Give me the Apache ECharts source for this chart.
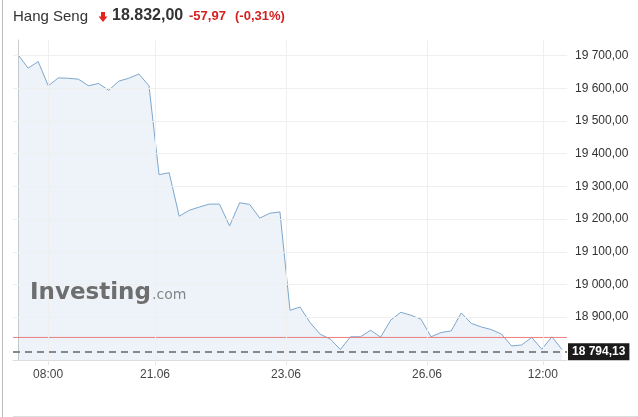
<!DOCTYPE html>
<html>
<head>
<meta charset="utf-8">
<script src="https://cdn.jsdelivr.net/npm/echarts@6/dist/echarts.min.js"></script>
<style>
html,body{margin:0;padding:0;background:#fff;}
#c{width:638px;height:417px;}
</style>
</head>
<body>
<div id="c"></div>
<script>
// ---- data ----
const closeValues = [
  19703, 19662, 19682, 19608, 19632, 19631, 19628, 19608, 19615, 19594,
  19622, 19631, 19644, 19608, 19336, 19342, 19209, 19227, 19237, 19246,
  19246, 19179, 19250, 19245, 19203, 19218, 19222, 18921, 18931, 18883,
  18848, 18833, 18801, 18840, 18840, 18860, 18839, 18891, 18915, 18906,
  18894, 18840, 18853, 18858, 18913, 18881, 18870, 18862, 18848, 18812,
  18815, 18838, 18802, 18840, 18801
];
const xTickPositions = [2.98, 13.6, 26.6, 40.6, 52.1];
const xTickLabels = ['08:00', '21.06', '23.06', '26.06', '12:00'];
const yTickValues = [18900, 19000, 19100, 19200, 19300, 19400, 19500, 19600, 19700];
const prevCloseLevel = 18838;
const lastPrice = 18794.13;
const titleName = 'Hang Seng';
const titlePrice = '18.832,00';
const titleChange = '-57,97';
const titleChangePct = '(-0,31%)';

function fmt(v, dec) {
  const parts = v.toFixed(dec).split('.');
  const int = parts[0].replace(/\B(?=(\d{3})+(?!\d))/g, ' ');
  return int + ',' + parts[1];
}

const chart = echarts.init(document.getElementById('c'), null, {renderer: 'canvas'});
const seriesData = closeValues.map((v, i) => [i, v]);
const xMin = -0.5, xMax = closeValues.length - 0.5;
const font = '"Liberation Sans", Arial, sans-serif';

const option = {
  animation: false,
  backgroundColor: '#fff',
  grid: {left: 13, right: 71, top: 40, bottom: 57},
  xAxis: {
    type: 'value',
    min: xMin,
    max: xMax,
    splitLine: {show: false},
    axisLine: {show: true, onZero: false, lineStyle: {color: '#dddddd'}},
    axisTick: {show: true, customValues: xTickPositions, length: 5, lineStyle: {color: '#e6e6e6'}},
    axisLabel: {
      customValues: xTickPositions,
      color: '#444', fontSize: 12, fontFamily: font, margin: 9,
      formatter: function (v) {
        let best = 0, d = 1e9;
        xTickPositions.forEach((p, i) => { if (Math.abs(p - v) < d) { d = Math.abs(p - v); best = i; } });
        return xTickLabels[best];
      }
    }
  },
  yAxis: {
    type: 'value',
    position: 'right',
    min: 18769,
    max: 19748,
    splitLine: {show: false},
    axisLine: {show: true, lineStyle: {color: '#cccccc'}},
    axisTick: {show: true, customValues: yTickValues, length: 5, lineStyle: {color: '#cccccc'}},
    axisLabel: {
      customValues: yTickValues,
      color: '#333', fontSize: 12, fontFamily: font, margin: 8,
      formatter: v => fmt(v, 2)
    }
  },
  series: [
    {
      name: 'grid',
      type: 'line',
      color: '#efefef',
      data: seriesData,
      symbol: 'none',
      silent: true,
      z: 1,
      lineStyle: {opacity: 0},
      markLine: {
        silent: true,
        symbol: 'none',
        label: {show: false},
        lineStyle: {color: '#efefef', width: 1, type: 'solid'},
        data: yTickValues.map(v => ({yAxis: v})).concat(xTickPositions.map(p => ({xAxis: p})))
      }
    },
    {
      name: 'Hang Seng',
      type: 'line',
      color: '#7ea7cd',
      data: seriesData,
      symbol: 'none',
      z: 3,
      lineStyle: {color: '#7ea7cd', width: 1},
      areaStyle: {color: 'rgba(127,169,209,0.2)'},
      markLine: {
        silent: true,
        symbol: 'none',
        z: 10,
        lineStyle: {color: '#888888', width: 2, type: [7, 5]},
        label: {show: true, position: 'end', distance: 1, formatter: fmt(lastPrice, 2),
                color: '#fff', backgroundColor: '#1b1b1b', fontWeight: 'bold', fontSize: 12,
                fontFamily: font, padding: [3, 4, 2, 4]},
        data: [{yAxis: lastPrice}]
      }
    },
    {
      name: 'prev',
      type: 'line',
      data: [[xMin, prevCloseLevel], [xMax, prevCloseLevel]],
      symbol: 'none',
      silent: true,
      z: 4,
      itemStyle: {color: '#ea7f7f'},
      lineStyle: {color: '#ea7f7f', width: 1, type: 'solid'}
    }
  ],
  graphic: [
    {type: 'rect', left: 2, top: 0, shape: {width: 1, height: 417}, style: {fill: '#bbbbbb'}, silent: true},
    {type: 'rect', left: 13, top: 416, shape: {width: 625, height: 1}, style: {fill: '#dddddd'}, silent: true},
    {type: 'text', left: 13, top: 9, style: {text: titleName, font: '15px ' + font, fill: '#333'}},
    {type: 'group', left: 98.5, top: 12, children: [
      {type: 'rect', shape: {x: 2.5, y: 0, width: 4, height: 5}, style: {fill: '#e52222'}},
      {type: 'polygon', shape: {points: [[0, 4.5], [9, 4.5], [4.5, 10]]}, style: {fill: '#e52222'}}
    ]},
    {type: 'text', left: 112, top: 8, style: {text: titlePrice, font: 'bold 16px ' + font, fill: '#333'}},
    {type: 'text', left: 189, top: 10, style: {text: titleChange, font: 'bold 13px ' + font, fill: '#d51f1f'}},
    {type: 'text', left: 235, top: 10, style: {text: titleChangePct, font: 'bold 13px ' + font, fill: '#d51f1f'}},
    {type: 'text', left: 30, top: 282, z: 100, style: {text: 'Investing', font: 'bold 23px "DejaVu Sans"', fill: '#6e6e6e'}},
    {type: 'text', left: 152, top: 288, z: 100, style: {text: '.com', font: '14px "DejaVu Sans"', fill: '#858585'}}
  ]
};
chart.setOption(option);
</script>
</body>
</html>
